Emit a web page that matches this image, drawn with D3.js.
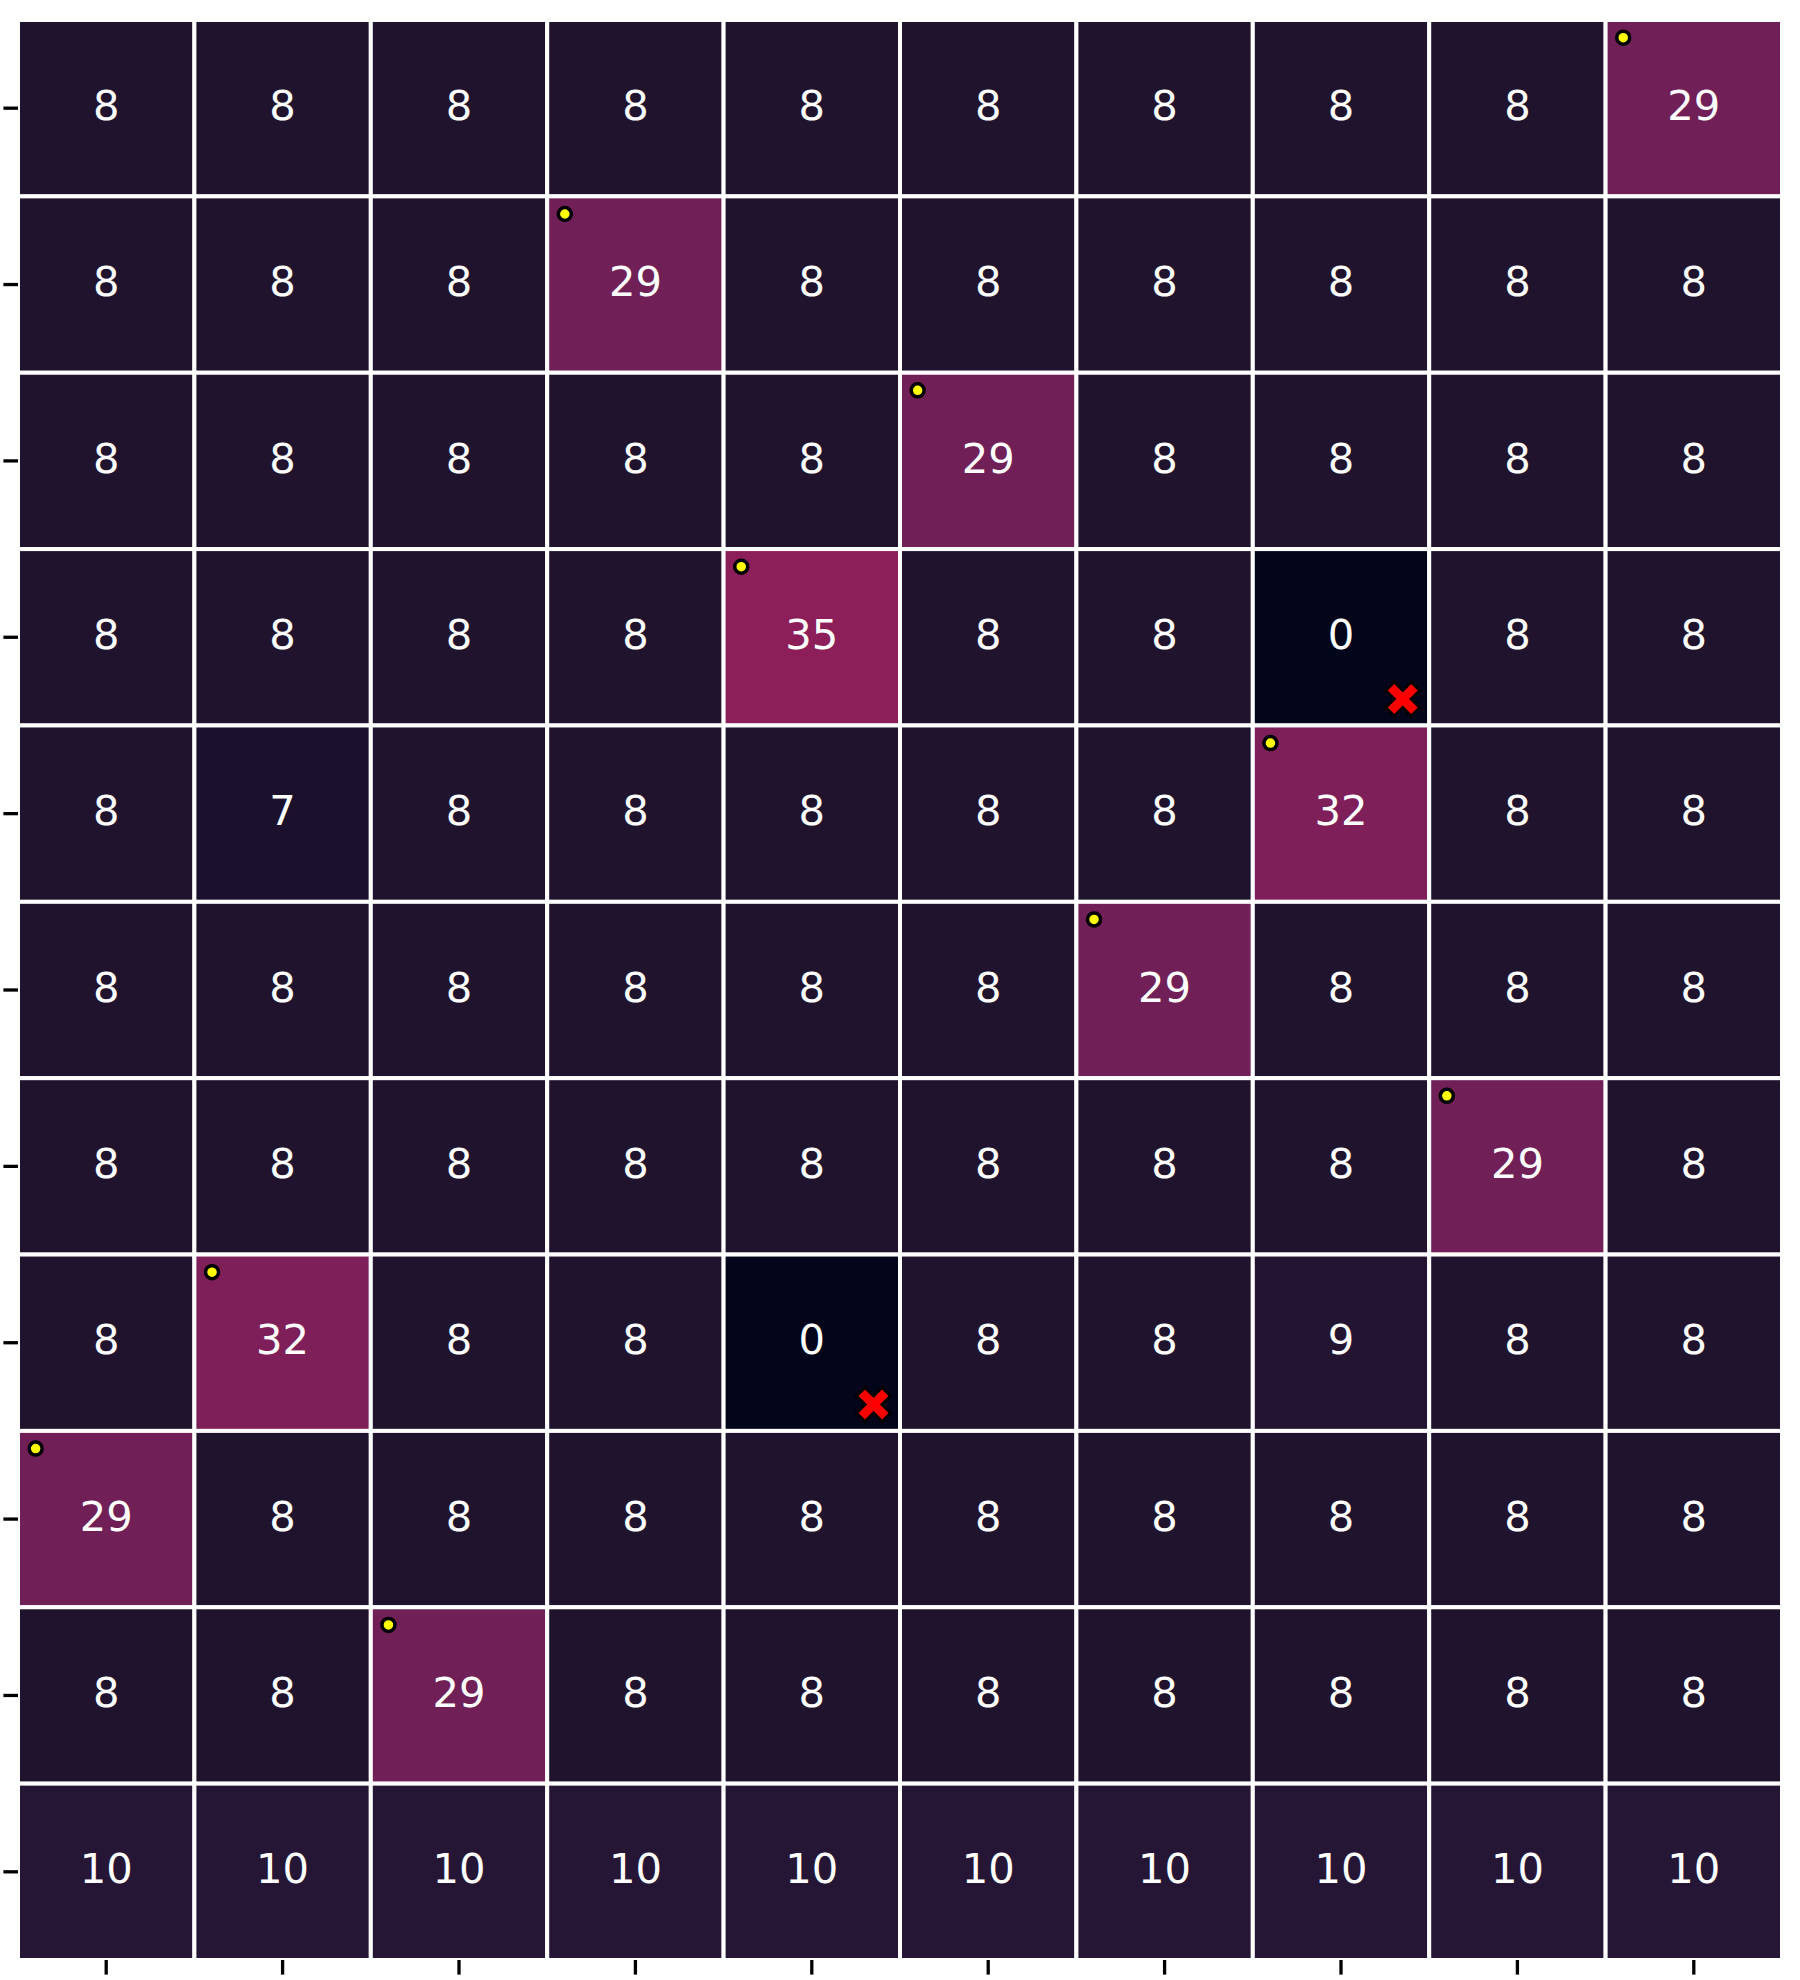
<!DOCTYPE html>
<html>
<head>
<meta charset="utf-8">
<script src="https://cdn.jsdelivr.net/npm/d3@7"></script>
<style>
  html, body { margin: 0; padding: 0; background: #ffffff; }
  svg { display: block; }
</style>
</head>
<body>
<svg id="chart" width="1800" height="1980"></svg>
<script>
// ---- data ----
const rowIndex = [0, 1, 2, 3, 4, 5, 6, 7, 8, 9, 10];
const colIndex = [0, 1, 2, 3, 4, 5, 6, 7, 8, 9];
const row0  = [8, 8, 8, 8, 8, 8, 8, 8, 8, 29];
const row1  = [8, 8, 8, 29, 8, 8, 8, 8, 8, 8];
const row2  = [8, 8, 8, 8, 8, 29, 8, 8, 8, 8];
const row3  = [8, 8, 8, 8, 35, 8, 8, 0, 8, 8];
const row4  = [8, 7, 8, 8, 8, 8, 8, 32, 8, 8];
const row5  = [8, 8, 8, 8, 8, 8, 29, 8, 8, 8];
const row6  = [8, 8, 8, 8, 8, 8, 8, 8, 29, 8];
const row7  = [8, 32, 8, 8, 0, 8, 8, 9, 8, 8];
const row8  = [29, 8, 8, 8, 8, 8, 8, 8, 8, 8];
const row9  = [8, 8, 29, 8, 8, 8, 8, 8, 8, 8];
const row10 = [10, 10, 10, 10, 10, 10, 10, 10, 10, 10];
// highlighted cells (yellow dot) : [row, col]
const dotCells = [[0, 9], [1, 3], [2, 5], [3, 4], [4, 7], [5, 6], [6, 8], [7, 1], [8, 0], [9, 2]];
// flagged cells (red cross) : [row, col]
const crossCells = [[3, 7], [7, 4]];
// colormap stops (value -> colour)
const cmapValues = [0, 7, 8, 9, 10, 29, 32, 35];
const cmapColors = ["#03051a", "#1c112c", "#20132e", "#231531", "#261636", "#711f57", "#7e1f5a", "#8c1e5a"];

const rows = [row0, row1, row2, row3, row4, row5, row6, row7, row8, row9, row10];

// ---- layout ----
const svg = d3.select("#chart");
const plotLeft = 18, plotRight = 1782, plotTop = 20, plotBottom = 1960;

const x = d3.scaleBand().domain(colIndex).range([plotLeft, plotRight]).padding(0);
const y = d3.scaleBand().domain(rowIndex).range([plotTop, plotBottom]).padding(0);
const color = d3.scaleLinear().domain(cmapValues).range(cmapColors).interpolate(d3.interpolateRgb).clamp(true);

const cells = [];
rows.forEach((r, i) => r.forEach((v, j) => cells.push({ r: i, c: j, v })));

const g = svg.append("g");
g.selectAll("rect.cell").data(cells).enter().append("rect")
  .attr("class", "cell")
  .attr("x", d => x(d.c))
  .attr("y", d => y(d.r))
  .attr("width", x.bandwidth())
  .attr("height", y.bandwidth())
  .attr("fill", d => color(d.v))
  .attr("stroke", "#ffffff")
  .attr("stroke-width", 4);

const fs = 41.7;
g.selectAll("text.val").data(cells).enter().append("text")
  .attr("class", "val")
  .attr("x", d => x(d.c) + x.bandwidth() / 2)
  .attr("y", d => y(d.r) + y.bandwidth() / 2 + fs * 0.28)
  .attr("text-anchor", "middle")
  .attr("font-family", "DejaVu Sans")
  .attr("font-size", fs)
  .attr("fill", "#ffffff")
  .text(d => d.v);

// yellow dots
g.selectAll("circle.dot").data(dotCells).enter().append("circle")
  .attr("class", "dot")
  .attr("cx", d => x(d[1]) + x.bandwidth() * 0.1)
  .attr("cy", d => y(d[0]) + y.bandwidth() * 0.1)
  .attr("r", 6.5)
  .attr("fill", "#ffff00")
  .attr("stroke", "#000000")
  .attr("stroke-width", 3.5);

// red crosses (matplotlib filled 'X' marker shape)
const S = 34;
const xPts = [[-0.25, -0.5], [0, -0.25], [0.25, -0.5], [0.5, -0.25], [0.25, 0], [0.5, 0.25],
              [0.25, 0.5], [0, 0.25], [-0.25, 0.5], [-0.5, 0.25], [-0.25, 0], [-0.5, -0.25]];
const xPath = "M" + xPts.map(p => (p[0] * S).toFixed(2) + "," + (p[1] * S).toFixed(2)).join("L") + "Z";
g.selectAll("path.cross").data(crossCells).enter().append("path")
  .attr("class", "cross")
  .attr("d", xPath)
  .attr("transform", d => `translate(${x(d[1]) + x.bandwidth() * 0.85},${y(d[0]) + y.bandwidth() * 0.85})`)
  .attr("fill", "#ff0000")
  .attr("stroke", "#000000")
  .attr("stroke-width", 3)
  .attr("stroke-linejoin", "miter");

// axes: tick marks only, no labels, no domain line
const xAxis = d3.axisBottom(x).tickSize(14.6).tickFormat("");
const yAxis = d3.axisLeft(y).tickSize(14.6).tickFormat("");
const gx = svg.append("g").attr("transform", `translate(0,${plotBottom})`).call(xAxis);
const gy = svg.append("g").attr("transform", `translate(${plotLeft},0)`).call(yAxis);
[gx, gy].forEach(a => {
  a.select(".domain").remove();
  a.selectAll(".tick line").attr("stroke", "#000000").attr("stroke-width", 3.3);
});
</script>
</body>
</html>
